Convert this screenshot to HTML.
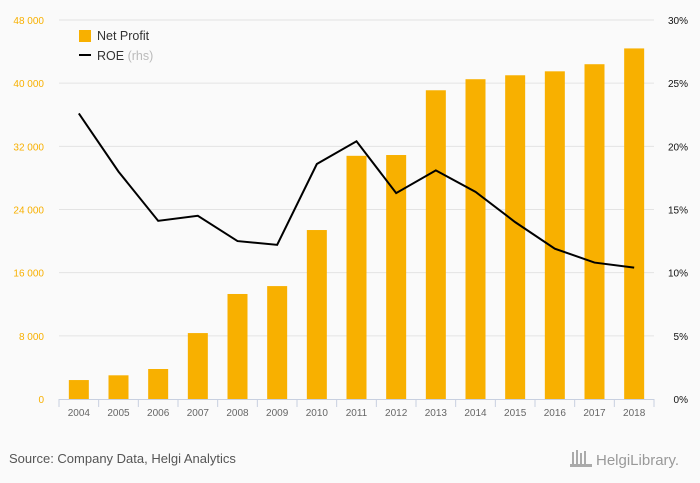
<!DOCTYPE html>
<html><head><meta charset="utf-8"><style>
body{margin:0;background:#fafafa;font-family:"Liberation Sans",sans-serif}
svg{display:block}
</style></head><body>
<svg id="c" width="700" height="483">
<rect width="700" height="483" fill="#fafafa"/>
<g id="grid"></g><g id="bars"></g><g id="axes"></g><g id="line"></g>
<g>
<rect x="79" y="30" width="12" height="12" fill="#f8b000"/>
<text x="97" y="40" font-size="12.5" fill="#333">Net Profit</text>
<rect x="79" y="54" width="12" height="2" fill="#000"/>
<text x="97" y="60" font-size="12.5" fill="#333">ROE <tspan fill="#bbb">(rhs)</tspan></text>
</g>
<text x="9" y="463" font-size="13" fill="#555">Source: Company Data, Helgi Analytics</text>
<text x="596" y="465" font-size="15" fill="#999">HelgiLibrary.</text>
<g fill="#aaa"><rect x="572" y="452" width="2" height="14"/><rect x="576" y="450" width="2" height="16"/><rect x="580" y="453" width="2" height="13"/><rect x="584" y="451" width="2" height="15"/><rect x="570" y="464" width="22" height="3"/></g>
</svg>
<script>
const years=["2004","2005","2006","2007","2008","2009","2010","2011","2012","2013","2014","2015","2016","2017","2018"];
const netProfit=[2400,3000,3800,8350,13300,14300,21400,30800,30900,39100,40500,41000,41500,42400,44400];
const roe=[22.6,18.0,14.1,14.5,12.5,12.2,18.6,20.4,16.3,18.1,16.4,14.0,11.9,10.8,10.4];
const leftTicks=[0,8000,16000,24000,32000,40000,48000];
const leftLabels=["0","8 000","16 000","24 000","32 000","40 000","48 000"];
const rightTicks=[0,5,10,15,20,25,30];
const rightLabels=["0%","5%","10%","15%","20%","25%","30%"];
const NS="http://www.w3.org/2000/svg";
const x0=59,x1=654,yTop=20,yBot=399;
const step=(x1-x0)/years.length;
const xC=i=>x0+step*(i+0.5);
const yL=v=>yBot-(v/48000)*(yBot-yTop);
const yR=v=>yBot-(v/30)*(yBot-yTop);
function mk(tag,attrs,parent){const e=document.createElementNS(NS,tag);for(const k in attrs)e.setAttribute(k,attrs[k]);document.getElementById(parent).appendChild(e);return e;}
leftTicks.forEach((t,i)=>{
 if(i>0){const g=mk('line',{x1:x0,x2:x1,y1:yL(t),y2:yL(t),stroke:'#e3e3e3','stroke-width':1},'grid');
 
 }
 const l=mk('text',{x:44,y:yL(t)+4,'text-anchor':'end','font-size':10,fill:'#f8b000'},'axes');l.textContent=leftLabels[i];
 
 
});
rightTicks.forEach((t,i)=>{
 const l=mk('text',{x:688,y:yR(t)+4,'text-anchor':'end','font-size':10,fill:'#111'},'axes');l.textContent=rightLabels[i];
 
 
});
years.forEach((y,i)=>{
 const b=mk('rect',{x:xC(i)-10,y:yL(netProfit[i]),width:20,height:yBot-yL(netProfit[i]),fill:'#f8b000'},'bars');
 
 
 const l=mk('text',{x:xC(i),y:416,'text-anchor':'middle','font-size':10,fill:'#666'},'axes');l.textContent=y;
 
 
});
const ax=mk('line',{x1:x0,x2:x1,y1:yBot+0.5,y2:yBot+0.5,stroke:'#c8d0e0'},'axes');


for(let i=0;i<=years.length;i++){const t=mk('line',{x1:x0+step*i,x2:x0+step*i,y1:yBot,y2:yBot+8,stroke:'#c8d0e0'},'axes');
 
 }
const p=mk('polyline',{points:roe.map((v,i)=>xC(i)+','+yR(v)).join(' '),fill:'none',stroke:'#000','stroke-width':2},'line');


</script>
</body></html>
